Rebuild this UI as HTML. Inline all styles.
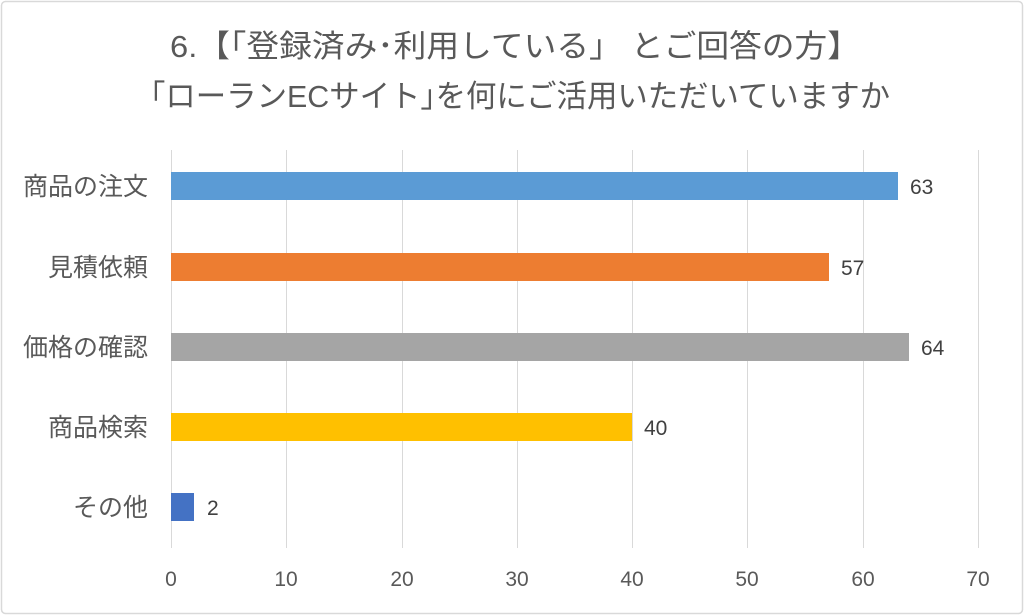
<!DOCTYPE html>
<html><head><meta charset="utf-8"><style>
body{margin:0;background:#fff;}
svg{display:block;font-family:"Liberation Sans","Noto Sans CJK JP",sans-serif;}
</style></head><body>
<svg width="1024" height="615" viewBox="0 0 1024 615">
<rect x="1.5" y="1.5" width="1021" height="612" rx="4" fill="#fff" stroke="#d9d9d9" stroke-width="1.5"/>
<g fill="#595959" font-size="31">
<text x="170" y="57" textLength="690" lengthAdjust="spacingAndGlyphs">6.【「登録済み･利用している」 とご回答の方】</text>
<text x="135" y="107" textLength="755" lengthAdjust="spacingAndGlyphs">「ローランECサイト｣を何にご活用いただいていますか</text>
</g>
<g stroke="#d9d9d9" stroke-width="1">
<line x1="171.5" y1="150" x2="171.5" y2="548"/>
<line x1="286.5" y1="150" x2="286.5" y2="548"/>
<line x1="402.5" y1="150" x2="402.5" y2="548"/>
<line x1="517.5" y1="150" x2="517.5" y2="548"/>
<line x1="632.5" y1="150" x2="632.5" y2="548"/>
<line x1="747.5" y1="150" x2="747.5" y2="548"/>
<line x1="863.5" y1="150" x2="863.5" y2="548"/>
<line x1="978.5" y1="150" x2="978.5" y2="548"/>
</g>
<rect x="171" y="172" width="727" height="28" fill="#5b9bd5"/>
<rect x="171" y="253" width="658" height="28" fill="#ed7d31"/>
<rect x="171" y="333" width="738" height="28" fill="#a5a5a5"/>
<rect x="171" y="413" width="461" height="28" fill="#ffc000"/>
<rect x="171" y="493" width="23" height="28" fill="#4472c4"/>
<g fill="#404040" font-size="21">
<text x="910" y="194">63</text>
<text x="841" y="275">57</text>
<text x="921" y="355">64</text>
<text x="644" y="435">40</text>
<text x="207" y="515">2</text>
</g>
<g fill="#595959" font-size="25" text-anchor="end">
<text x="148" y="195">商品の注文</text>
<text x="148" y="276">見積依頼</text>
<text x="148" y="356">価格の確認</text>
<text x="148" y="436">商品検索</text>
<text x="148" y="516">その他</text>
</g>
<g fill="#595959" font-size="21" text-anchor="middle">
<text x="171" y="586">0</text><text x="286" y="586">10</text><text x="402" y="586">20</text><text x="517" y="586">30</text>
<text x="632" y="586">40</text><text x="747" y="586">50</text><text x="863" y="586">60</text><text x="978" y="586">70</text>
</g>
</svg>
</body></html>
